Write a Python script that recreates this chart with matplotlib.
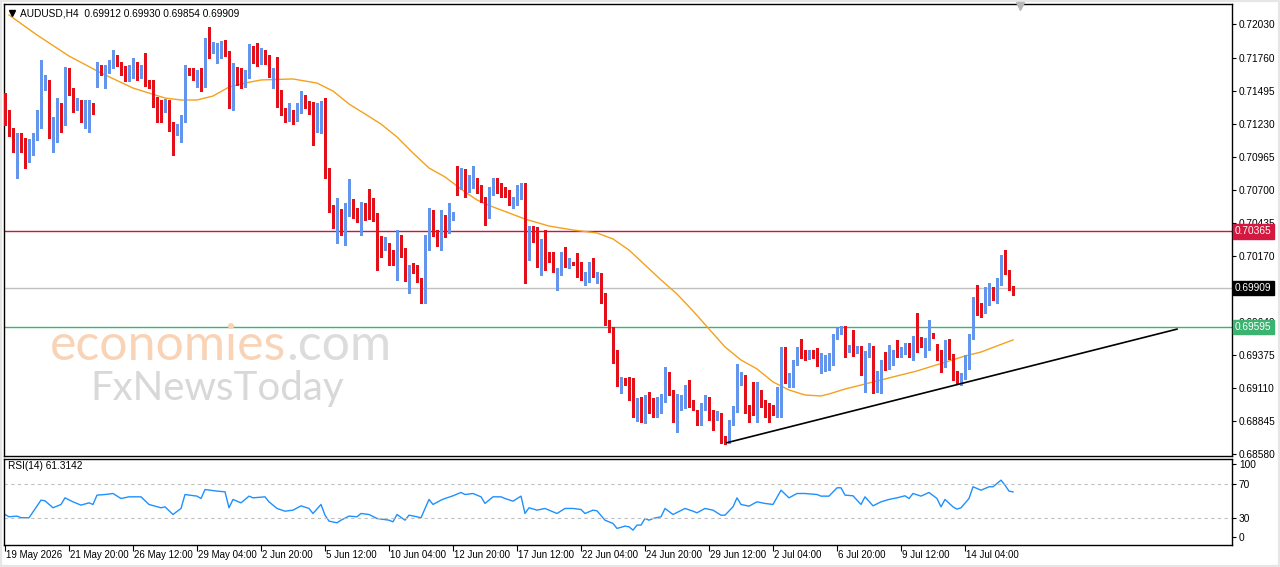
import matplotlib
matplotlib.use("Agg")
import matplotlib.pyplot as plt
from matplotlib.patches import Rectangle

plt.rcParams["font.family"] = ["Liberation Sans", "DejaVu Sans"]

# --- data (bar index 0 = 19 May 2026 04:00) ---
opens = [
    0.71452, 0.71275, 0.71155, 0.71091, 0.71131, 0.71083, 0.71010, 0.71034, 0.71131, 0.71211,
    0.71524, 0.71556, 0.71195, 0.71243, 0.71364, 0.71300, 0.71629, 0.71492, 0.71364, 0.71388,
    0.71284, 0.71300, 0.71380, 0.71540, 0.71661, 0.71645, 0.71677, 0.71685, 0.71757, 0.71709,
    0.71645, 0.71589, 0.71653, 0.71685, 0.71613, 0.71677, 0.71556, 0.71540, 0.71420, 0.71372,
    0.71348, 0.71396, 0.71179, 0.71155, 0.71195, 0.71275, 0.71653, 0.71645, 0.71597, 0.71645,
    0.71556, 0.71878, 0.71813, 0.71789, 0.71846, 0.71862, 0.71789, 0.71372, 0.71669, 0.71645,
    0.71532, 0.71613, 0.71838, 0.71757, 0.71725, 0.71797, 0.71773, 0.71621, 0.71637, 0.71404,
    0.71332, 0.71300, 0.71324, 0.71292, 0.71332, 0.71428, 0.71404, 0.71332, 0.71187, 0.71187,
    0.71388, 0.70818, 0.70553, 0.70312, 0.70513, 0.70376, 0.70513, 0.70577, 0.70521, 0.70472,
    0.70577, 0.70577, 0.70577, 0.70505, 0.70288, 0.70240, 0.70264, 0.70199, 0.70111, 0.70296,
    0.70175, 0.69958, 0.70079, 0.70071, 0.69967, 0.69894, 0.70264, 0.70489, 0.70352, 0.70272,
    0.70456, 0.70368, 0.70480, 0.70802, 0.70729, 0.70826, 0.70705, 0.70729, 0.70786, 0.70721,
    0.70633, 0.70480, 0.70673, 0.70729, 0.70721, 0.70689, 0.70681, 0.70585, 0.70617, 0.70689,
    0.70745, 0.70151, 0.70320, 0.70304, 0.70159, 0.70256, 0.70183, 0.70159, 0.70039, 0.70039,
    0.70159, 0.70087, 0.70111, 0.70111, 0.70103, 0.69975, 0.69975, 0.70031, 0.70023, 0.70031,
    0.69838, 0.69637, 0.69581, 0.69380, 0.69131, 0.69180, 0.69180, 0.69115, 0.68883, 0.68995,
    0.68842, 0.69011, 0.68955, 0.68923, 0.68955, 0.69011, 0.69196, 0.69075, 0.68907, 0.68947,
    0.69019, 0.69107, 0.68987, 0.68915, 0.68834, 0.68955, 0.68995, 0.68899, 0.68891, 0.68834,
    0.68706, 0.68690, 0.68834, 0.68923, 0.69180, 0.69196, 0.68955, 0.68947, 0.68907, 0.69043,
    0.68995, 0.68971, 0.68955, 0.68947, 0.69035, 0.69396, 0.69156, 0.69196, 0.69308, 0.69396,
    0.69372, 0.69356, 0.69396, 0.69413, 0.69300, 0.69300, 0.69300, 0.69308, 0.69517, 0.69557,
    0.69589, 0.69413, 0.69437, 0.69405, 0.69429, 0.69252, 0.69372, 0.69429, 0.69156, 0.69228,
    0.69292, 0.69276, 0.69308, 0.69388, 0.69372, 0.69396, 0.69453, 0.69396, 0.69509, 0.69493,
    0.69453, 0.69493, 0.69533, 0.69445, 0.69356, 0.69292, 0.69429, 0.69364, 0.69228, 0.69180,
    0.69196, 0.69276, 0.69517, 0.69822, 0.69774, 0.69726, 0.69862, 0.69870, 0.69870, 0.69950,
    0.70159, 0.70031, 0.69912,
]
highs = [
    0.71476, 0.71340, 0.71195, 0.71155, 0.71155, 0.71115, 0.71107, 0.71155, 0.71340, 0.71741,
    0.71621, 0.71581, 0.71284, 0.71436, 0.71396, 0.71685, 0.71677, 0.71516, 0.71436, 0.71420,
    0.71420, 0.71420, 0.71396, 0.71725, 0.71701, 0.71701, 0.71741, 0.71821, 0.71781, 0.71725,
    0.71693, 0.71701, 0.71757, 0.71725, 0.71701, 0.71797, 0.71581, 0.71581, 0.71444, 0.71420,
    0.71428, 0.71420, 0.71243, 0.71227, 0.71300, 0.71701, 0.71677, 0.71677, 0.71661, 0.71677,
    0.71918, 0.72006, 0.71886, 0.71878, 0.71894, 0.71902, 0.71813, 0.71717, 0.71685, 0.71677,
    0.71661, 0.71870, 0.71854, 0.71878, 0.71838, 0.71821, 0.71781, 0.71677, 0.71765, 0.71500,
    0.71356, 0.71396, 0.71340, 0.71396, 0.71492, 0.71460, 0.71412, 0.71404, 0.71396, 0.71412,
    0.71436, 0.70874, 0.70577, 0.70633, 0.70545, 0.70593, 0.70786, 0.70625, 0.70553, 0.70601,
    0.70593, 0.70705, 0.70633, 0.70513, 0.70328, 0.70320, 0.70272, 0.70215, 0.70376, 0.70336,
    0.70232, 0.70095, 0.70111, 0.70095, 0.69991, 0.70336, 0.70553, 0.70537, 0.70376, 0.70537,
    0.70496, 0.70593, 0.70521, 0.70890, 0.70874, 0.70866, 0.70818, 0.70890, 0.70794, 0.70737,
    0.70641, 0.70721, 0.70794, 0.70794, 0.70753, 0.70721, 0.70697, 0.70641, 0.70737, 0.70753,
    0.70753, 0.70408, 0.70408, 0.70400, 0.70304, 0.70376, 0.70199, 0.70199, 0.70071, 0.70199,
    0.70240, 0.70151, 0.70119, 0.70191, 0.70119, 0.70039, 0.70119, 0.70151, 0.70039, 0.70031,
    0.69870, 0.69653, 0.69597, 0.69413, 0.69196, 0.69188, 0.69196, 0.69188, 0.69027, 0.69035,
    0.69051, 0.69075, 0.69027, 0.69035, 0.69059, 0.69276, 0.69236, 0.69091, 0.69059, 0.69051,
    0.69131, 0.69172, 0.69011, 0.68931, 0.68987, 0.69051, 0.69035, 0.68931, 0.68923, 0.68907,
    0.68722, 0.68850, 0.68963, 0.69300, 0.69236, 0.69212, 0.68971, 0.69156, 0.69156, 0.69091,
    0.69011, 0.68987, 0.68971, 0.69115, 0.69437, 0.69437, 0.69228, 0.69332, 0.69437, 0.69501,
    0.69413, 0.69413, 0.69413, 0.69429, 0.69388, 0.69372, 0.69388, 0.69541, 0.69589, 0.69605,
    0.69605, 0.69453, 0.69573, 0.69445, 0.69445, 0.69405, 0.69469, 0.69445, 0.69244, 0.69332,
    0.69396, 0.69453, 0.69413, 0.69493, 0.69437, 0.69469, 0.69469, 0.69525, 0.69710, 0.69517,
    0.69509, 0.69653, 0.69549, 0.69461, 0.69413, 0.69493, 0.69501, 0.69380, 0.69244, 0.69228,
    0.69372, 0.69541, 0.69838, 0.69934, 0.69790, 0.69918, 0.69950, 0.69918, 0.69991, 0.70175,
    0.70215, 0.70055, 0.69930,
]
lows = [
    0.71219, 0.71131, 0.71002, 0.70794, 0.71002, 0.70874, 0.70922, 0.70978, 0.71099, 0.71195,
    0.71500, 0.71115, 0.71002, 0.71083, 0.71163, 0.71219, 0.71460, 0.71324, 0.71340, 0.71243,
    0.71195, 0.71163, 0.71308, 0.71524, 0.71621, 0.71516, 0.71637, 0.71677, 0.71693, 0.71621,
    0.71573, 0.71573, 0.71597, 0.71581, 0.71597, 0.71532, 0.71516, 0.71364, 0.71243, 0.71243,
    0.71324, 0.71171, 0.70978, 0.71139, 0.71083, 0.71243, 0.71621, 0.71581, 0.71524, 0.71492,
    0.71524, 0.71757, 0.71797, 0.71717, 0.71757, 0.71773, 0.71356, 0.71340, 0.71540, 0.71516,
    0.71524, 0.71597, 0.71717, 0.71693, 0.71709, 0.71709, 0.71605, 0.71516, 0.71364, 0.71300,
    0.71243, 0.71251, 0.71227, 0.71251, 0.71316, 0.71356, 0.71308, 0.71059, 0.71163, 0.71155,
    0.70794, 0.70521, 0.70392, 0.70272, 0.70336, 0.70256, 0.70489, 0.70472, 0.70440, 0.70336,
    0.70456, 0.70464, 0.70448, 0.70055, 0.70159, 0.70215, 0.70095, 0.70095, 0.69975, 0.70159,
    0.69967, 0.69870, 0.70031, 0.69958, 0.69790, 0.69790, 0.70215, 0.70328, 0.70248, 0.70215,
    0.70320, 0.70352, 0.70456, 0.70657, 0.70705, 0.70641, 0.70681, 0.70713, 0.70673, 0.70601,
    0.70416, 0.70472, 0.70657, 0.70673, 0.70641, 0.70641, 0.70577, 0.70553, 0.70577, 0.70625,
    0.69950, 0.70135, 0.70280, 0.70079, 0.70015, 0.70055, 0.70119, 0.70039, 0.69894, 0.70015,
    0.70079, 0.70071, 0.70095, 0.69999, 0.69975, 0.69934, 0.69958, 0.69999, 0.69950, 0.69790,
    0.69613, 0.69557, 0.69308, 0.69123, 0.69067, 0.69131, 0.69011, 0.68875, 0.68842, 0.68834,
    0.68826, 0.68907, 0.68875, 0.68875, 0.68907, 0.68995, 0.69051, 0.68834, 0.68754, 0.68931,
    0.68947, 0.68955, 0.68931, 0.68810, 0.68810, 0.68931, 0.68850, 0.68770, 0.68850, 0.68666,
    0.68658, 0.68666, 0.68810, 0.68915, 0.69131, 0.68907, 0.68834, 0.68891, 0.68834, 0.68955,
    0.68875, 0.68834, 0.68891, 0.68875, 0.68875, 0.69147, 0.69115, 0.69115, 0.69292, 0.69348,
    0.69332, 0.69340, 0.69348, 0.69284, 0.69228, 0.69244, 0.69252, 0.69292, 0.69501, 0.69541,
    0.69356, 0.69396, 0.69364, 0.69388, 0.69212, 0.69075, 0.69356, 0.69067, 0.69075, 0.69067,
    0.69252, 0.69260, 0.69292, 0.69356, 0.69356, 0.69380, 0.69356, 0.69332, 0.69396, 0.69437,
    0.69356, 0.69413, 0.69509, 0.69332, 0.69236, 0.69276, 0.69340, 0.69172, 0.69147, 0.69131,
    0.69180, 0.69260, 0.69501, 0.69694, 0.69677, 0.69710, 0.69774, 0.69814, 0.69790, 0.69934,
    0.70023, 0.69894, 0.69854,
]
closes = [
    0.71275, 0.71155, 0.71091, 0.71131, 0.71083, 0.71010, 0.71034, 0.71131, 0.71211, 0.71524,
    0.71556, 0.71195, 0.71243, 0.71364, 0.71300, 0.71629, 0.71492, 0.71364, 0.71388, 0.71284,
    0.71300, 0.71380, 0.71324, 0.71661, 0.71645, 0.71677, 0.71685, 0.71757, 0.71709, 0.71645,
    0.71589, 0.71645, 0.71685, 0.71629, 0.71677, 0.71556, 0.71540, 0.71420, 0.71372, 0.71348,
    0.71396, 0.71179, 0.71163, 0.71195, 0.71275, 0.71653, 0.71645, 0.71597, 0.71645, 0.71524,
    0.71878, 0.71813, 0.71870, 0.71854, 0.71870, 0.71789, 0.71372, 0.71677, 0.71645, 0.71532,
    0.71613, 0.71838, 0.71741, 0.71717, 0.71797, 0.71765, 0.71621, 0.71637, 0.71404, 0.71316,
    0.71284, 0.71324, 0.71292, 0.71340, 0.71428, 0.71388, 0.71324, 0.71195, 0.71195, 0.71388,
    0.70810, 0.70553, 0.70440, 0.70505, 0.70376, 0.70529, 0.70577, 0.70489, 0.70456, 0.70577,
    0.70496, 0.70505, 0.70456, 0.70288, 0.70240, 0.70264, 0.70191, 0.70111, 0.70296, 0.70183,
    0.69999, 0.70079, 0.70055, 0.69967, 0.69894, 0.70264, 0.70489, 0.70352, 0.70272, 0.70456,
    0.70368, 0.70496, 0.70505, 0.70721, 0.70810, 0.70705, 0.70753, 0.70786, 0.70721, 0.70625,
    0.70489, 0.70689, 0.70737, 0.70705, 0.70673, 0.70657, 0.70593, 0.70617, 0.70689, 0.70745,
    0.70159, 0.70320, 0.70288, 0.70159, 0.70264, 0.70183, 0.70151, 0.70047, 0.70055, 0.70167,
    0.70095, 0.70119, 0.70103, 0.70015, 0.69991, 0.70023, 0.70031, 0.70023, 0.70031, 0.69830,
    0.69629, 0.69565, 0.69372, 0.69131, 0.69188, 0.69164, 0.69115, 0.68883, 0.68995, 0.68842,
    0.69019, 0.68923, 0.68923, 0.69003, 0.69011, 0.69188, 0.69075, 0.68907, 0.68947, 0.69019,
    0.69115, 0.68971, 0.68955, 0.68834, 0.68971, 0.68987, 0.68875, 0.68883, 0.68907, 0.68674,
    0.68674, 0.68834, 0.68931, 0.69188, 0.69188, 0.68915, 0.68915, 0.68891, 0.69043, 0.68979,
    0.68947, 0.68947, 0.68931, 0.69035, 0.69396, 0.69156, 0.69212, 0.69308, 0.69396, 0.69364,
    0.69348, 0.69388, 0.69372, 0.69292, 0.69308, 0.69308, 0.69316, 0.69517, 0.69557, 0.69589,
    0.69421, 0.69437, 0.69405, 0.69429, 0.69236, 0.69388, 0.69429, 0.69156, 0.69228, 0.69308,
    0.69268, 0.69316, 0.69388, 0.69372, 0.69421, 0.69453, 0.69396, 0.69509, 0.69477, 0.69461,
    0.69493, 0.69533, 0.69525, 0.69356, 0.69292, 0.69429, 0.69356, 0.69228, 0.69180, 0.69204,
    0.69276, 0.69517, 0.69822, 0.69758, 0.69734, 0.69870, 0.69870, 0.69854, 0.69950, 0.70159,
    0.70031, 0.69918, 0.69909,
]

# moving average (orange), sampled along the curve
ma_idx = [1, 8, 16, 24, 32, 40, 44, 48, 52, 56, 60, 64, 72, 78, 82, 86, 90, 94, 98, 102,
          106, 110, 114, 118, 122, 126, 130, 136, 142, 148, 152, 156, 160, 164, 168, 172,
          176, 180, 184, 188, 192, 196, 200, 204, 206, 210, 216, 222, 228, 232, 236, 240,
          244, 248, 252]
ma_vals = [0.72103, 0.71942, 0.71773, 0.71637, 0.71516, 0.71436, 0.71420, 0.71420, 0.71452,
           0.71524, 0.71556, 0.71581, 0.71589, 0.71556, 0.71492, 0.71388, 0.71308, 0.71227,
           0.71123, 0.70994, 0.70874, 0.70802, 0.70705, 0.70617, 0.70561, 0.70513, 0.70464,
           0.70408, 0.70376, 0.70352, 0.70304, 0.70215, 0.70095, 0.69975, 0.69862, 0.69726,
           0.69581, 0.69437, 0.69332, 0.69260, 0.69156, 0.69091, 0.69051, 0.69043, 0.69059,
           0.69099, 0.69147, 0.69196, 0.69244, 0.69284, 0.69324, 0.69364, 0.69396, 0.69445,
           0.69493]

# RSI(14), sampled
rsi_idx = [0, 1, 3, 4, 6, 7, 9, 10, 12, 14, 15, 17, 19, 21, 22, 23, 25, 27, 29, 31, 34, 36,
           39, 40, 42, 44, 45, 48, 49, 50, 53, 55, 56, 57, 59, 61, 62, 65, 66, 68, 70, 72,
           74, 76, 77, 79, 80, 81, 83, 84, 86, 88, 89, 91, 93, 96, 97, 98, 100, 101, 103,
           104, 106, 107, 109, 110, 112, 114, 115, 117, 119, 120, 122, 124, 125, 127, 129,
           130, 131, 133, 135, 136, 138, 140, 142, 144, 145, 147, 148, 150, 152, 153, 155,
           156, 157, 158, 159, 160, 161, 162, 164, 165, 167, 170, 172, 173, 175, 177, 179,
           180, 182, 183, 184, 186, 188, 190, 192, 194, 196, 198, 200, 203, 204, 206, 208,
           209, 210, 212, 214, 215, 217, 219, 221, 223, 225, 226, 227, 229, 231, 233, 234,
           235, 237, 238, 239, 241, 242, 244, 246, 247, 249, 250, 251, 252]
rsi_vals = [34.7, 32.0, 32.8, 31.0, 30.8, 37.8, 51.6, 50.8, 42.6, 46.5, 54.3, 49.6, 45.7,
            48.4, 46.5, 57.5, 58.2, 59.4, 53.5, 55.5, 55.5, 46.5, 42.6, 43.7, 34.7, 41.8,
            58.2, 56.3, 53.5, 64.1, 62.2, 61.4, 42.6, 52.4, 48.4, 56.3, 54.3, 55.5, 49.6,
            41.8, 38.6, 39.8, 44.9, 41.8, 35.9, 46.5, 33.9, 26.9, 24.9, 28.0, 32.8, 32.0,
            35.9, 34.7, 30.0, 28.0, 26.1, 34.7, 28.0, 33.9, 32.0, 30.8, 52.4, 46.5, 51.6,
            53.5, 56.7, 60.6, 58.2, 59.4, 55.5, 47.7, 55.5, 55.5, 53.5, 50.4, 56.3, 35.9,
            42.6, 39.8, 41.8, 39.8, 35.9, 41.8, 41.8, 40.6, 35.9, 39.8, 39.0, 28.0, 24.1,
            18.3, 21.0, 20.2, 16.3, 22.2, 22.2, 30.0, 28.0, 30.0, 32.0, 41.8, 34.7, 41.8,
            38.6, 36.7, 41.8, 39.8, 33.9, 33.9, 43.7, 54.3, 46.5, 44.5, 49.6, 47.7, 46.5,
            63.3, 54.3, 59.4, 59.4, 58.2, 56.3, 56.3, 66.1, 66.1, 57.5, 56.7, 46.5, 55.5,
            44.9, 49.6, 52.4, 54.3, 56.7, 53.5, 59.4, 56.3, 60.6, 53.5, 43.7, 52.4, 43.7,
            41.0, 42.6, 53.5, 67.3, 63.3, 67.3, 67.3, 75.1, 69.2, 62.2, 61.3142]

time_labels = ["19 May 2026", "21 May 20:00", "26 May 12:00", "29 May 04:00", "2 Jun 20:00",
               "5 Jun 12:00", "10 Jun 04:00", "12 Jun 20:00", "17 Jun 12:00", "22 Jun 04:00",
               "24 Jun 20:00", "29 Jun 12:00", "2 Jul 04:00", "6 Jul 20:00", "9 Jul 12:00",
               "14 Jul 04:00"]
bars_per_label = 16

price_ticks = [0.72030, 0.71760, 0.71495, 0.71230, 0.70965, 0.70700, 0.70435, 0.70170,
               0.69905, 0.69640, 0.69375, 0.69110, 0.68845, 0.68580]
resistance = 0.70365
support = 0.69595
trend_x = [180.5, 293.0]
trend_y = [0.68668, 0.69580]

BULL = "#6495ed"
BEAR = "#e3101a"

assert len(opens) == len(highs) == len(lows) == len(closes)

fig = plt.figure(figsize=(12.8, 5.67), dpi=100)
W, H = 1280, 567
ax = fig.add_axes([4 / W, 1 - 456 / H, 1228 / W, 452 / H])
rsi_ax = fig.add_axes([4 / W, 1 - 545 / H, 1228 / W, 86 / H])

xs = list(range(len(closes)))
cols = [BULL if c >= o else BEAR for o, c in zip(opens, closes)]
bottoms = [min(o, c) for o, c in zip(opens, closes)]
heights = [max(abs(c - o), 0.00005) for o, c in zip(opens, closes)]

ax.vlines(xs, lows, highs, colors=cols, linewidth=1, antialiased=False, zorder=3)
ax.bar(xs, heights, bottom=bottoms, width=0.75, color=cols, linewidth=0,
       antialiased=False, zorder=3)

ax.plot(ma_idx, ma_vals, color="#f4a11d", linewidth=1, zorder=2)
ax.plot(trend_x, trend_y, color="black", linewidth=1.2, zorder=4)

ax.axhline(resistance, color="#c8163e", linewidth=1, zorder=1)
ax.axhline(closes[-1], color="#c0c0c0", linewidth=1, zorder=1)
ax.axhline(support, color="#3cb371", linewidth=1, zorder=1)

ax.set_xlim(-0.25, 306.75)
ax.set_ylim(0.68561, 0.72191)
ax.set_xticks([])
ax.yaxis.tick_right()
ax.set_yticks(price_ticks)
# the tick under the close-price box is hidden in the original
ax.set_yticklabels(["" if abs(p - closes[-1]) < 0.0001 else f"{p:.5f}" for p in price_ticks])
ax.tick_params(axis="y", length=3, width=0.8, pad=2, labelsize=7.3, colors="black")
for s in ax.spines.values():
    s.set_linewidth(1)

# price boxes on the right scale
ytrans = ax.get_yaxis_transform()
for val, bg in [(resistance, "#d5183f"), (closes[-1], "#000000"), (support, "#3cb371")]:
    ax.text(1.0025, val, f"{val:.5f}", transform=ytrans, ha="left", va="center",
            fontsize=7.3, color="white", zorder=10, clip_on=False,
            bbox=dict(boxstyle="square,pad=0.22", fc=bg, ec=bg))

# header
ax.text(0.013, 0.980, f"AUDUSD,H4  {opens[-1]:.5f} {highs[-1]:.5f} {lows[-1]:.5f} {closes[-1]:.5f}",
        transform=ax.transAxes, ha="left", va="center", fontsize=7.3, zorder=6)
ax.plot([0.0065], [0.979], marker="v", color="black", markersize=4,
        transform=ax.transAxes, clip_on=False, zorder=6)
fig.lines.append(plt.Line2D([1020 / W], [1 - 6 / H], marker="v", color="#b8b8b8",
                            markersize=6, transform=fig.transFigure))

# watermark
renderer = fig.canvas.get_renderer()
wm1 = fig.text(50 / W, 1 - 360 / H, "economies", fontsize=36, color="#f9d3b6",
               family="Lato")
bb = wm1.get_window_extent(renderer=renderer)
fig.text(bb.x1 / W, 1 - 360 / H, ".com", fontsize=36, color="#dcdcdc", family="Lato")
fig.text(90 / W, 1 - 400 / H, "FxNewsToday", fontsize=29, color="#d8d8d8", family="Lato")

# RSI panel
rsi_ax.plot(rsi_idx, rsi_vals, color="#1e90ff", linewidth=1)
for lvl in (70, 30):
    rsi_ax.axhline(lvl, color="#c0c0c0", linewidth=0.8, linestyle=(0, (3, 3)))
rsi_ax.set_xlim(-0.25, 306.75)
rsi_ax.set_ylim(-1.2, 100)
rsi_ax.yaxis.tick_right()
rsi_ax.set_yticks([94, 70, 30, 8])
rsi_ax.set_yticklabels(["100", "70", "30", "0"])
rsi_ax.tick_params(axis="y", length=3, width=0.8, pad=2, labelsize=7.3)
rsi_ax.text(0.003, 0.92, f"RSI(14) {rsi_vals[-1]:.4f}", transform=rsi_ax.transAxes,
            ha="left", va="center", fontsize=7.3)

tick_pos = [i * bars_per_label for i in range(len(time_labels))]
rsi_ax.set_xticks(tick_pos)
rsi_ax.set_xticklabels([""] * len(tick_pos))
rsi_ax.tick_params(axis="x", length=4, width=0.8)
xtrans = rsi_ax.get_xaxis_transform()
for pos, lab in zip(tick_pos, time_labels):
    rsi_ax.text(pos + 0.3, -0.06, lab, transform=xtrans, ha="left", va="top", fontsize=7)
for s in rsi_ax.spines.values():
    s.set_linewidth(1)

fig.patches.append(Rectangle((0, 0), 1, 1, transform=fig.transFigure, fill=False,
                             edgecolor="#e6e6e6", linewidth=3))

fig.savefig("out.png", dpi=100)
